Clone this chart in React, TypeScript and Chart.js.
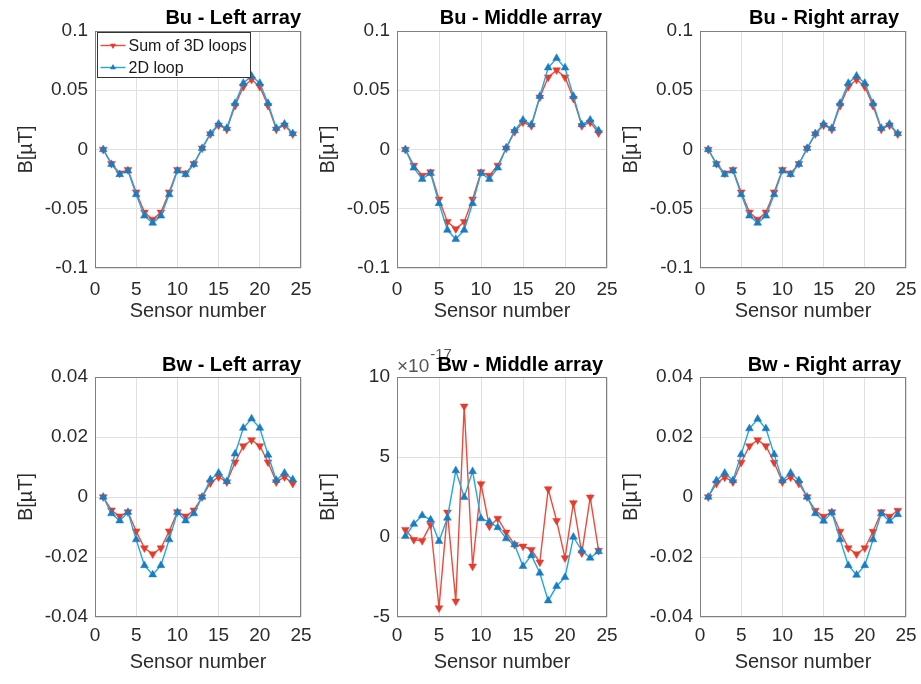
import React, { useEffect, useRef } from "react";
import { Chart, registerables } from "chart.js";

Chart.register(...registerables);

// ---------------- data ----------------
const SENSORS = [1, 2, 3, 4, 5, 6, 7, 8, 9, 10, 11, 12, 13, 14, 15, 16, 17, 18, 19, 20, 21, 22, 23, 24];
const X_TICKS = [0, 5, 10, 15, 20, 25];
const BU_Y_TICKS = [-0.1, -0.05, 0, 0.05, 0.1];
const BW_Y_TICKS = [-0.04, -0.02, 0, 0.02, 0.04];
const BW_MID_Y_TICKS = [-5, 0, 5, 10];
const SERIES_LABELS = ["Sum of 3D loops", "2D loop"];
const X_LABEL = "Sensor number";
const Y_LABEL = "B[µT]";
const EXPONENT_BASE = "×10";
const EXPONENT_POWER = "-17";

const BU_LEFT_SUM = [0, -0.012, -0.02, -0.017, -0.036, -0.053, -0.059, -0.053, -0.036, -0.017, -0.02, -0.012, 0.001, 0.013, 0.0205, 0.017, 0.037, 0.053, 0.059, 0.053, 0.037, 0.017, 0.0205, 0.013];
const BU_LEFT_2D = [0, -0.0125, -0.021, -0.018, -0.038, -0.056, -0.062, -0.056, -0.038, -0.018, -0.021, -0.0125, 0.001, 0.0135, 0.0215, 0.018, 0.039, 0.056, 0.062, 0.056, 0.039, 0.018, 0.0215, 0.0135];

const BU_MID_SUM = [0, -0.0135, -0.022, -0.019, -0.042, -0.061, -0.067, -0.061, -0.042, -0.019, -0.022, -0.0135, 0.001, 0.015, 0.023, 0.02, 0.044, 0.061, 0.067, 0.061, 0.043, 0.02, 0.023, 0.014];
const BU_MID_2D = [0, -0.0155, -0.025, -0.02, -0.0455, -0.068, -0.0758, -0.068, -0.0455, -0.02, -0.025, -0.0155, 0.0014, 0.016, 0.025, 0.021, 0.045, 0.069, 0.077, 0.069, 0.045, 0.021, 0.025, 0.016];

const BU_RIGHT_SUM = [0, -0.012, -0.02, -0.017, -0.036, -0.053, -0.059, -0.053, -0.036, -0.017, -0.02, -0.012, 0.001, 0.013, 0.0205, 0.017, 0.037, 0.053, 0.059, 0.053, 0.037, 0.017, 0.0205, 0.013];
const BU_RIGHT_2D = [0, -0.0125, -0.021, -0.018, -0.038, -0.056, -0.062, -0.056, -0.038, -0.018, -0.021, -0.0125, 0.001, 0.0135, 0.0215, 0.018, 0.039, 0.056, 0.062, 0.056, 0.039, 0.018, 0.0215, 0.0135];

const BW_LEFT_SUM = [0, -0.0044, -0.0064, -0.005, -0.0114, -0.017, -0.019, -0.017, -0.0114, -0.005, -0.0064, -0.0044, 0, 0.0047, 0.0067, 0.005, 0.0116, 0.017, 0.019, 0.017, 0.0116, 0.005, 0.0067, 0.0045];
const BW_LEFT_2D = [0, -0.0055, -0.0079, -0.0051, -0.0142, -0.0228, -0.0259, -0.0228, -0.0142, -0.0051, -0.0079, -0.0055, 0, 0.0058, 0.008, 0.0052, 0.0144, 0.023, 0.0261, 0.023, 0.014, 0.0056, 0.008, 0.0058];

// values in units of 1e-17 µT
const BW_MID_SUM = [0.46, -0.17, -0.23, 0.77, -4.44, 1.54, -4.02, 8.17, -1.83, 3.31, 0.67, 1.15, 0.29, -0.48, -0.58, -0.79, -1.58, 3.0, 1.02, -1.31, 2.13, -1.0, 2.48, -0.85];
const BW_MID_2D = [0.04, 0.81, 1.35, 1.08, -0.27, 1.19, 4.15, 2.48, 4.1, 1.15, 0.94, 0.6, -0.1, -0.48, -1.83, -1.15, -2.25, -3.98, -3.08, -2.52, 0, -0.85, -1.31, -0.9];

const BW_RIGHT_SUM = [0, 0.0045, 0.0066, 0.005, 0.0115, 0.017, 0.019, 0.017, 0.0115, 0.005, 0.0066, 0.0045, 0, -0.0045, -0.0065, -0.005, -0.0115, -0.017, -0.019, -0.017, -0.0115, -0.005, -0.0065, -0.0045];
const BW_RIGHT_2D = [0, 0.0055, 0.008, 0.0055, 0.0142, 0.0228, 0.026, 0.0228, 0.0142, 0.0055, 0.008, 0.0055, 0, -0.0055, -0.008, -0.0052, -0.0142, -0.0228, -0.026, -0.0228, -0.0142, -0.0055, -0.008, -0.0058];

// ---------------- layout / style ----------------
const FONT = "'Liberation Sans', Arial, sans-serif";
const RED = "#ee4a3b";
const RED_MARK = "#e63a2c";
const BLUE = "#1ea8e0";
const BLUE_MARK = "#1a7cc2";
const TEXT = "#2b2b2b";
const GRID = "#e0e0e0";
const BOX = "#808080";

const PLOT_LEFT = [95, 397, 700];
const PLOT_RIGHT = [301, 607, 906];
const PLOT_TOP = [31, 377];
const PLOT_BOTTOM = [268, 617];
const ROW_TOP = [0, 340];
const ROW_BOTTOM = [340, 684];
const TITLE_RIGHT = [[301, 602, 899], [301, 603, 901]];
const TITLE_Y = [18, 365];
const XTITLE_PAD = [17, 10];
const XTICK_PAD = [10, 7];
const Y_AXIS_W = 95;

type PanelSpec = {
  title: string;
  sum: number[];
  loop: number[];
  yTicks: number[];
  col: number;
  row: number;
  legend?: boolean;
  exponent?: boolean;
};

const PANELS: PanelSpec[] = [
  { title: "Bu - Left array", sum: BU_LEFT_SUM, loop: BU_LEFT_2D, yTicks: BU_Y_TICKS, col: 0, row: 0, legend: true },
  { title: "Bu - Middle array", sum: BU_MID_SUM, loop: BU_MID_2D, yTicks: BU_Y_TICKS, col: 1, row: 0 },
  { title: "Bu - Right array", sum: BU_RIGHT_SUM, loop: BU_RIGHT_2D, yTicks: BU_Y_TICKS, col: 2, row: 0 },
  { title: "Bw - Left array", sum: BW_LEFT_SUM, loop: BW_LEFT_2D, yTicks: BW_Y_TICKS, col: 0, row: 1 },
  { title: "Bw - Middle array", sum: BW_MID_SUM, loop: BW_MID_2D, yTicks: BW_MID_Y_TICKS, col: 1, row: 1, exponent: true },
  { title: "Bw - Right array", sum: BW_RIGHT_SUM, loop: BW_RIGHT_2D, yTicks: BW_Y_TICKS, col: 2, row: 1 },
];

function tri(ctx: CanvasRenderingContext2D, x: number, y: number, r: number, down: boolean, color: string) {
  ctx.save();
  ctx.beginPath();
  const s = down ? -1 : 1;
  ctx.moveTo(x, y - s * r);
  ctx.lineTo(x + r * 0.866, y + s * r * 0.5);
  ctx.lineTo(x - r * 0.866, y + s * r * 0.5);
  ctx.closePath();
  ctx.fillStyle = color;
  ctx.fill();
  ctx.restore();
}

const decorPlugin = {
  id: "decor",
  beforeDatasetsDraw(chart: any) {
    const { ctx, chartArea } = chart;
    ctx.save();
    ctx.strokeStyle = BOX;
    ctx.lineWidth = 1;
    const l = Math.round(chartArea.left) + 0.5;
    const t = Math.round(chartArea.top) + 0.5;
    const r = Math.round(chartArea.right) - 0.5;
    const b = Math.round(chartArea.bottom) - 0.5;
    ctx.strokeRect(l, t, r - l, b - t);
    ctx.restore();
  },
  afterDraw(chart: any, _a: any, opts: any) {
    const { ctx, chartArea } = chart;
    ctx.save();
    if (opts.exponent) {
      ctx.fillStyle = "#555555";
      ctx.textBaseline = "middle";
      ctx.textAlign = "left";
      ctx.font = `19px ${FONT}`;
      const x0 = chartArea.left;
      ctx.fillText(EXPONENT_BASE, x0, chartArea.top - 10);
      const w = ctx.measureText(EXPONENT_BASE).width;
      ctx.font = `15px ${FONT}`;
      ctx.fillText(EXPONENT_POWER, x0 + w + 1, chartArea.top - 22);
    }
    ctx.fillStyle = "#000";
    ctx.font = `bold 20px ${FONT}`;
    ctx.textAlign = "right";
    ctx.textBaseline = "middle";
    ctx.fillText(opts.title, opts.titleX, opts.titleY);
    if (opts.legend) {
      const bx = chartArea.left + 2.5;
      const by = chartArea.top + 1.5;
      const bw = 153;
      const bh = 45;
      ctx.fillStyle = "#ffffff";
      ctx.fillRect(bx, by, bw, bh);
      ctx.strokeStyle = "#333333";
      ctx.lineWidth = 1;
      ctx.strokeRect(bx, by, bw, bh);
      const ds = chart.data.datasets;
      const rows = [13, 35];
      ds.forEach((d: any, i: number) => {
        const y = by + rows[i];
        ctx.strokeStyle = d.borderColor;
        ctx.lineWidth = 1.4;
        ctx.beginPath();
        ctx.moveTo(bx + 3, y);
        ctx.lineTo(bx + 28, y);
        ctx.stroke();
        tri(ctx, bx + 15.5, y, 3.5, i === 0, d.pointBackgroundColor);
        ctx.fillStyle = "#1a1a1a";
        ctx.font = `16px ${FONT}`;
        ctx.textAlign = "left";
        ctx.textBaseline = "middle";
        ctx.fillText(d.label, bx + 31, y + 1);
      });
    }
    ctx.restore();
  },
};

function Panel({ spec }: { spec: PanelSpec }) {
  const ref = useRef<HTMLCanvasElement | null>(null);
  const left = PLOT_LEFT[spec.col] - Y_AXIS_W;
  const top = ROW_TOP[spec.row];
  const width = PLOT_RIGHT[spec.col] + 14 - left;
  const height = ROW_BOTTOM[spec.row] - top;

  useEffect(() => {
    if (!ref.current) return;
    const tickFont = { family: FONT, size: 19 };
    const titleFont = { family: FONT, size: 20 };
    const yMin = spec.yTicks[0];
    const yMax = spec.yTicks[spec.yTicks.length - 1];
    const xAxisH = ROW_BOTTOM[spec.row] - PLOT_BOTTOM[spec.row];
    const chart = new Chart(ref.current, {
      type: "line",
      data: {
        datasets: [
          {
            label: SERIES_LABELS[0],
            data: SENSORS.map((s, i) => ({ x: s, y: spec.sum[i] })),
            borderColor: RED,
            backgroundColor: RED_MARK,
            pointBackgroundColor: RED_MARK,
            pointBorderColor: RED_MARK,
            pointStyle: "triangle",
            pointRotation: 180,
            pointRadius: 4.5,
            pointBorderWidth: 0.5,
            borderWidth: 1.4,
            tension: 0,
            order: 1,
          } as any,
          {
            label: SERIES_LABELS[1],
            data: SENSORS.map((s, i) => ({ x: s, y: spec.loop[i] })),
            borderColor: BLUE,
            backgroundColor: BLUE_MARK,
            pointBackgroundColor: BLUE_MARK,
            pointBorderColor: BLUE_MARK,
            pointStyle: "triangle",
            pointRadius: 4.5,
            pointBorderWidth: 0.5,
            borderWidth: 1.4,
            tension: 0,
            order: 0,
          } as any,
        ],
      },
      options: {
        responsive: false,
        animation: false,
        devicePixelRatio: 1,
        layout: {
          padding: {
            left: 0,
            bottom: 0,
            top: PLOT_TOP[spec.row] - top,
            right: left + width - PLOT_RIGHT[spec.col],
          },
        },
        scales: {
          x: {
            type: "linear",
            min: X_TICKS[0],
            max: X_TICKS[X_TICKS.length - 1],
            afterBuildTicks: (s: any) => {
              s.ticks = X_TICKS.map((v) => ({ value: v }));
            },
            afterFit: (s: any) => {
              s.height = xAxisH;
              s.paddingLeft = 0;
              s.paddingRight = 0;
            },
            grid: { color: GRID, drawTicks: false },
            border: { display: false },
            ticks: {
              padding: XTICK_PAD[spec.row],
              font: tickFont,
              color: TEXT,
              maxRotation: 0,
              autoSkip: false,
              callback: (v: any) => String(v),
            },
            title: {
              display: true,
              text: X_LABEL,
              font: titleFont,
              color: TEXT,
              padding: { top: 0, bottom: XTITLE_PAD[spec.row] },
            },
          },
          y: {
            type: "linear",
            min: yMin,
            max: yMax,
            afterBuildTicks: (s: any) => {
              s.ticks = spec.yTicks.map((v) => ({ value: v }));
            },
            afterFit: (s: any) => {
              s.width = Y_AXIS_W;
              s.paddingTop = 0;
              s.paddingBottom = 0;
            },
            grid: { color: GRID, drawTicks: false },
            border: { display: false },
            ticks: {
              padding: 7,
              font: tickFont,
              color: TEXT,
              autoSkip: false,
              callback: (v: any) => String(v),
            },
            title: {
              display: true,
              text: Y_LABEL,
              font: titleFont,
              color: TEXT,
              padding: { top: 14, bottom: 0 },
            },
          },
        },
        plugins: {
          legend: { display: false },
          tooltip: { enabled: false },
          decor: {
            title: spec.title,
            titleX: TITLE_RIGHT[spec.row][spec.col] - left,
            titleY: TITLE_Y[spec.row] - top,
            legend: !!spec.legend,
            exponent: !!spec.exponent,
          },
        } as any,
      },
      plugins: [decorPlugin as any],
    });
    return () => chart.destroy();
  }, []);

  return (
    <canvas
      ref={ref}
      width={width}
      height={height}
      style={{ position: "absolute", left, top, width, height }}
    />
  );
}

export default function App() {
  return (
    <div style={{ position: "absolute", left: 0, top: 0, width: 921, height: 684, background: "#ffffff" }}>
      {PANELS.map((p, i) => (
        <Panel key={i} spec={p} />
      ))}
    </div>
  );
}
